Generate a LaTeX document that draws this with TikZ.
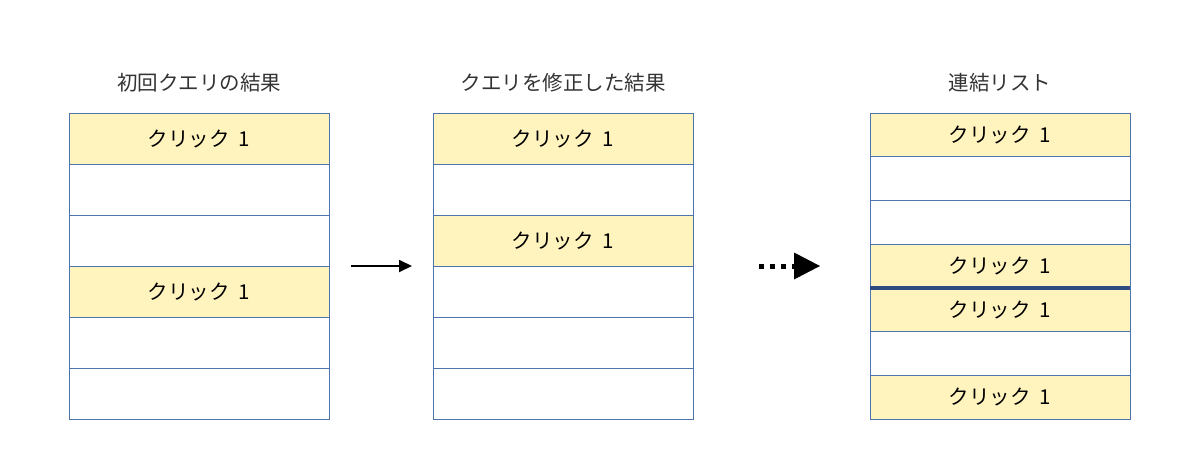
\documentclass[tikz,border=0pt]{standalone}
\usepackage{fontspec}
\setmainfont{Noto Sans CJK JP}
\usepackage{tikz}
\usetikzlibrary{arrows.meta,positioning}
\definecolor{cellline}{HTML}{4F73AC}
\definecolor{hitfill}{HTML}{FFF3BE}
\definecolor{joinline}{HTML}{2C4C82}
\definecolor{titletext}{HTML}{333333}
\newcommand{\clk}{クリック\hspace{0.45em}1}

\begin{document}
\begin{tikzpicture}[x=1pt, y=-1pt,
  font=\fontsize{20.5}{24}\selectfont, >=Triangle,
  cell/.style={draw=cellline, line width=0.9pt, minimum width=260pt,
               inner sep=0pt, outer sep=0pt, anchor=north west},
  hit/.style={cell, fill=hitfill},
  coltitle/.style={text=titletext, anchor=base}]
\useasboundingbox (0,0) rectangle (1200,471);
% initial query
\foreach \i/\k/\t in {1/hit/\clk,2/cell/,3/cell/,4/hit/\clk,5/cell/,6/cell/}
  \node[\k, minimum height=51pt] (a\i) at (69,{113+(\i-1)*51}) {\t};
% modified query
\foreach \i/\k/\t in {1/hit/\clk,2/cell/,3/hit/\clk,4/cell/,5/cell/,6/cell/}
  \node[\k, minimum height=51pt] (b\i) at (433,{113+(\i-1)*51}) {\t};
% joined list
\foreach \i/\k/\t in {1/hit/\clk,2/cell/,3/cell/,4/hit/\clk,5/hit/\clk,6/cell/,7/hit/\clk}
  \node[\k, minimum height=43.714pt] (c\i) at (870,{113+(\i-1)*43.714}) {\t};
\draw[joinline, line width=4pt] (c4.south west) -- (c4.south east);

\node[coltitle, above=17pt of a1.north] (ta) {初回クエリの結果};
\node[coltitle, above=17pt of b1.north] (tb) {クエリを修正した結果};
\node[coltitle, above=17pt of c1.north] (tc) {連結リスト};

\draw[->, line width=1.8pt, >={Triangle[length=13pt,width=12pt]},
      shorten <=22pt, shorten >=21pt] (a3.south east) -- (b4.north west);
\draw[line width=5pt, dash pattern=on 5pt off 6pt,
      -{Triangle[length=26pt,width=27pt,line width=0pt]},
      shorten <=66pt, shorten >=50pt] (b3.south east) -- (c4.south west |- b3.south east);
\end{tikzpicture}
\end{document}
